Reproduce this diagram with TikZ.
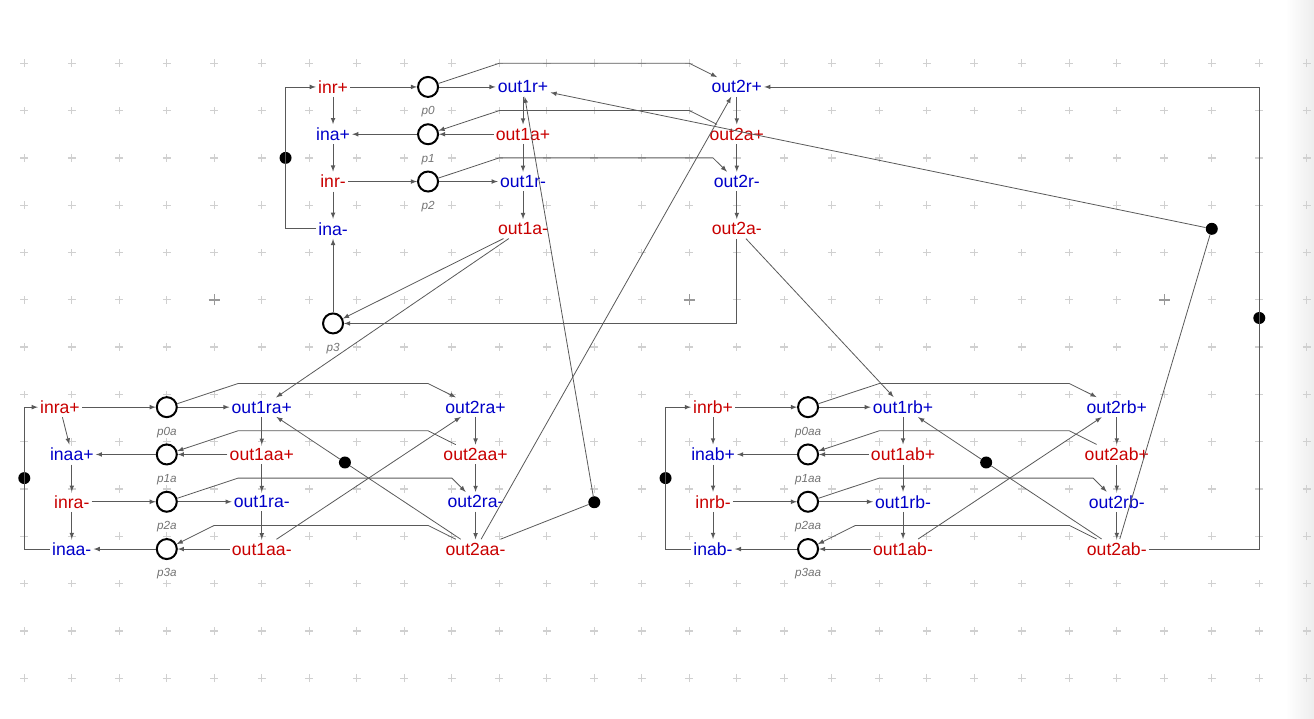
\documentclass[tikz,border=0pt]{standalone}
\usepackage{fontspec}
\setmainfont{Liberation Sans}
\usetikzlibrary{positioning}

\definecolor{tred}{RGB}{200,0,0}
\definecolor{tblue}{RGB}{0,0,200}
\definecolor{gridmark}{RGB}{208,208,208}

\begin{document}
\begin{tikzpicture}
    [
    x=35.625pt, y=-35.475pt,
    place/.style={circle,draw,line width=1.5pt,inner sep=0pt,minimum size=15pt},
    pname/.style={font=\fontsize{8.8}{10}\selectfont\itshape,text=black!55},
    junction/.style={circle,fill=black,inner sep=0pt,minimum size=9pt},
    trans/.style={font=\fontsize{13.2}{15}\selectfont,inner xsep=1.5pt,inner ysep=2.5pt},
    hot/.style={trans,text=tred},
    cold/.style={trans,text=tblue},
    link/.style={-latex,draw=black!65,line width=0.6pt},
    label distance=3pt,
    ]
    \useasboundingbox (-0.5116,-1.338) rectangle (27.152,13.863);
    % editor background
    \shade [left color=white,right color=black!7] (26.55,-1.338) rectangle (27.152,13.863);
    \foreach \i in {0,...,27}
      \foreach \j in {0,...,13}
        \draw [gridmark,line width=1pt] (\i,\j) +(-2.9pt,0) -- +(2.9pt,0) +(0,-2.9pt) -- +(0,2.9pt);
    \foreach \i in {4,14,24}
      \draw [black!40,line width=1.1pt] (\i,5) +(-4.2pt,0) -- +(4.2pt,0) +(0,-4.2pt) -- +(0,4.2pt);

    % upper net
    \node (inrp) at (6.5,0.5) [hot] {inr+};
    \node (inap) at (6.5,1.5) [cold] {ina+};
    \node (inrm) at (6.5,2.5) [hot] {inr-};
    \node (inam) at (6.5,3.5) [cold] {ina-};
    \node (p0) at (8.5,0.5) [place,label={[pname]below:p0}] {};
    \node (p1) at (8.5,1.5) [place,label={[pname]below:p1}] {};
    \node (p2) at (8.5,2.5) [place,label={[pname]below:p2}] {};
    \node (p3) at (6.5,5.5) [place,label={[pname]below:p3}] {};
    \node (out1rp) at (10.5,0.5) [cold] {out1r+};
    \node (out1ap) at (10.5,1.5) [hot] {out1a+};
    \node (out1rm) at (10.5,2.5) [cold] {out1r-};
    \node (out1am) at (10.5,3.5) [hot] {out1a-};
    \node (out2rp) at (15,0.5) [cold] {out2r+};
    \node (out2ap) at (15,1.5) [hot] {out2a+};
    \node (out2rm) at (15,2.5) [cold] {out2r-};
    \node (out2am) at (15,3.5) [hot] {out2a-};

    % lower left net
    \node (inrap) at (0.75,7.27) [hot] {inra+};
    \node (inaap) at (1,8.27) [cold] {inaa+};
    \node (inram) at (1,9.27) [hot] {inra-};
    \node (inaam) at (1,10.27) [cold] {inaa-};
    \node (p0a) at (3,7.27) [place,label={[pname]below:p0a}] {};
    \node (p1a) at (3,8.27) [place,label={[pname]below:p1a}] {};
    \node (p2a) at (3,9.27) [place,label={[pname]below:p2a}] {};
    \node (p3a) at (3,10.27) [place,label={[pname]below:p3a}] {};
    \node (out1rap) at (5,7.27) [cold] {out1ra+};
    \node (out1aap) at (5,8.27) [hot] {out1aa+};
    \node (out1ram) at (5,9.27) [cold] {out1ra-};
    \node (out1aam) at (5,10.27) [hot] {out1aa-};
    \node (out2rap) at (9.5,7.27) [cold] {out2ra+};
    \node (out2aap) at (9.5,8.27) [hot] {out2aa+};
    \node (out2ram) at (9.5,9.27) [cold] {out2ra-};
    \node (out2aam) at (9.5,10.27) [hot] {out2aa-};

    % lower right net
    \node (inrbp) at (14.5,7.27) [hot] {inrb+};
    \node (inabp) at (14.5,8.27) [cold] {inab+};
    \node (inrbm) at (14.5,9.27) [hot] {inrb-};
    \node (inabm) at (14.5,10.27) [cold] {inab-};
    \node (p0aa) at (16.5,7.27) [place,label={[pname]below:p0aa}] {};
    \node (p1aa) at (16.5,8.27) [place,label={[pname]below:p1aa}] {};
    \node (p2aa) at (16.5,9.27) [place,label={[pname]below:p2aa}] {};
    \node (p3aa) at (16.5,10.27) [place,label={[pname]below:p3aa}] {};
    \node (out1rbp) at (18.5,7.27) [cold] {out1rb+};
    \node (out1abp) at (18.5,8.27) [hot] {out1ab+};
    \node (out1rbm) at (18.5,9.27) [cold] {out1rb-};
    \node (out1abm) at (18.5,10.27) [hot] {out1ab-};
    \node (out2rbp) at (23,7.27) [cold] {out2rb+};
    \node (out2abp) at (23,8.27) [hot] {out2ab+};
    \node (out2rbm) at (23,9.27) [cold] {out2rb-};
    \node (out2abm) at (23,10.27) [hot] {out2ab-};

    % bend points
    \node (d1) at (5.5,2) [junction] {};
    \node (d2) at (25,3.5) [junction] {};
    \node (d3) at (26,5.385) [junction] {};
    \node (d4) at (0,8.77) [junction] {};
    \node (d5) at (6.75,8.44) [junction] {};
    \node (d6) at (12,9.28) [junction] {};
    \node (d7) at (13.5,8.77) [junction] {};
    \node (d8) at (20.25,8.44) [junction] {};

    % upper net arcs
    \draw [link] (inrp) to (inap);
    \draw [link] (inap) to (inrm);
    \draw [link] (inrm) to (inam);
    \draw [link] (inrp) to (p0);
    \draw [link] (p0) to (out1rp);
    \draw [link] (out1ap) to (p1);
    \draw [link] (p1) to (inap);
    \draw [link] (inrm) to (p2);
    \draw [link] (p2) to (out1rm);
    \draw [link] (out1rp) to (out1ap);
    \draw [link] (out1ap) to (out1rm);
    \draw [link] (out1rm) to (out1am);
    \draw [link] (out2rp) to (out2ap);
    \draw [link] (out2ap) to (out2rm);
    \draw [link] (out2rm) to (out2am);
    \draw [link] (p0) -- (10,0) -- (14,0) -- (out2rp);
    \draw [link] (out2ap) -- (14,1) -- (10,1) -- (p1);
    \draw [link] (p2) -- (10,2) -- (14.5,2) -- (out2rm);
    \draw [link] (out2am) |- (p3);
    \draw [link] (out1am) to (p3);
    \draw [link] (p3) to (inam);
    \draw [link] (inam) -| (d1.center) |- (inrp);
    \draw [link] (out1am) to (out1rap);
    \draw [link] (out2am) to (out1rbp);

    % lower left net arcs
    \draw [link] (inrap) to (inaap);
    \draw [link] (inaap) to (inram);
    \draw [link] (inram) to (inaam);
    \draw [link] (inrap) to (p0a);
    \draw [link] (p0a) to (out1rap);
    \draw [link] (out1aap) to (p1a);
    \draw [link] (p1a) to (inaap);
    \draw [link] (inram) to (p2a);
    \draw [link] (p2a) to (out1ram);
    \draw [link] (out1aam) to (p3a);
    \draw [link] (p3a) to (inaam);
    \draw [link] (out1rap) to (out1aap);
    \draw [link] (out1aap) to (out1ram);
    \draw [link] (out1ram) to (out1aam);
    \draw [link] (out2rap) to (out2aap);
    \draw [link] (out2aap) to (out2ram);
    \draw [link] (out2ram) to (out2aam);
    \draw [link] (p0a) -- (4.5,6.77) -- (8.5,6.77) -- (out2rap);
    \draw [link] (out2aap) -- (8.5,7.77) -- (4.5,7.77) -- (p1a);
    \draw [link] (p2a) -- (4.5,8.77) -- (9,8.77) -- (out2ram);
    \draw [link] (out2aam) -- (8.5,9.77) -- (4,9.77) -- (p3a);
    \draw [link] (out1aam) to (out2rap);
    \draw [link] (out2aam) -- (d5) -- (out1rap);
    \draw [link] (out2aam) -- (d6) -- (out1rp);
    \draw [link] (out2aam) to (out2rp);
    \draw [link] (inaam) -| (d4.center) |- (inrap);

    % lower right net arcs
    \draw [link] (inrbp) to (inabp);
    \draw [link] (inabp) to (inrbm);
    \draw [link] (inrbm) to (inabm);
    \draw [link] (inrbp) to (p0aa);
    \draw [link] (p0aa) to (out1rbp);
    \draw [link] (out1abp) to (p1aa);
    \draw [link] (p1aa) to (inabp);
    \draw [link] (inrbm) to (p2aa);
    \draw [link] (p2aa) to (out1rbm);
    \draw [link] (out1abm) to (p3aa);
    \draw [link] (p3aa) to (inabm);
    \draw [link] (out1rbp) to (out1abp);
    \draw [link] (out1abp) to (out1rbm);
    \draw [link] (out1rbm) to (out1abm);
    \draw [link] (out2rbp) to (out2abp);
    \draw [link] (out2abp) to (out2rbm);
    \draw [link] (out2rbm) to (out2abm);
    \draw [link] (p0aa) -- (18,6.77) -- (22,6.77) -- (out2rbp);
    \draw [link] (out2abp) -- (22,7.77) -- (18,7.77) -- (p1aa);
    \draw [link] (p2aa) -- (18,8.77) -- (22.5,8.77) -- (out2rbm);
    \draw [link] (out2abm) -- (22,9.77) -- (17.5,9.77) -- (p3aa);
    \draw [link] (out1abm) to (out2rbp);
    \draw [link] (out2abm) -- (d8) -- (out1rbp);
    \draw [link] (out2abm) -- (d2) -- (out1rp);
    \draw [link] (out2abm) -| (d3.center) |- (out2rp);
    \draw [link] (inabm) -| (d7.center) |- (inrbp);
\end{tikzpicture}
\end{document}
